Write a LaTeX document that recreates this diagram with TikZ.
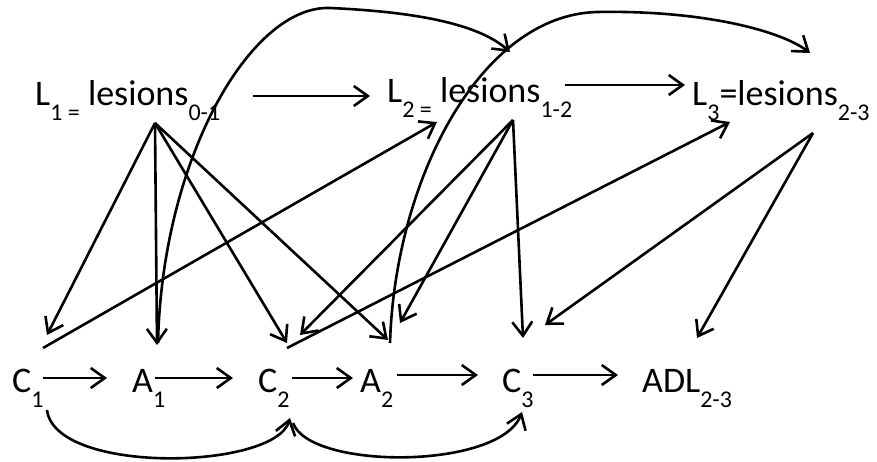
\documentclass[tikz,border=0pt]{standalone}
\usepackage{fontspec}
\setmainfont{Carlito}
\usetikzlibrary{arrows.meta}
\newcommand\sbx[1]{\raisebox{-15pt}{\fontsize{24}{24}\selectfont #1}}
\begin{document}
\begin{tikzpicture}[x=1pt,y=-1pt,
  lbl/.style={inner sep=0pt, anchor=base west, font=\fontsize{36}{40}\selectfont},
  arr/.style={line width=2.6pt, -{Straight Barb[length=14pt,width=20pt,line width=2.6pt]}}]
\useasboundingbox[fill=white] (0,0) rectangle (877,461);
% top row
\node[lbl] (L1) at (35,105) {L\sbx{1 =} lesions\sbx{0-1}};
\node[lbl] (L2) at (387,102) {L\sbx{2 =} lesions\sbx{1-2}};
\node[lbl] (L3) at (692,105) {L\sbx{3}=lesions\sbx{2-3}};
% bottom row
\node[lbl] (C1) at (12,392) {C\sbx{1}};
\node[lbl] (A1) at (132,392) {A\sbx{1}};
\node[lbl] (C2) at (258,392) {C\sbx{2}};
\node[lbl] (A2) at (360,392) {A\sbx{2}};
\node[lbl] (C3) at (502,392) {C\sbx{3}};
\node[lbl] (ADL) at (642,392) {ADL\sbx{2-3}};
% top horizontal
\draw[arr] ([shift={(218,-9)}]L1.base west) -- ([shift={(-17,-6)}]L2.base west);
\draw[arr] ([shift={(178,-17)}]L2.base west) -- ([shift={(-7,-20)}]L3.base west);
% bottom horizontal
\draw[arr] ([shift={(31,-14)}]C1.base west) -- ([shift={(-25,-14)}]A1.base west);
\draw[arr] ([shift={(23,-14)}]A1.base west) -- ([shift={(-25,-14)}]C2.base west);
\draw[arr] ([shift={(34,-14)}]C2.base west) -- ([shift={(-7,-14)}]A2.base west);
\draw[arr] ([shift={(37,-17)}]A2.base west) -- ([shift={(-24,-17)}]C3.base west);
\draw[arr] ([shift={(31,-17)}]C3.base west) -- ([shift={(-24,-17)}]ADL.base west);
% from L1
\draw[arr] ([shift={(120,18)}]L1.base west) -- ([shift={(35,-57)}]C1.base west);
\draw[arr] ([shift={(120,18)}]L1.base west) -- ([shift={(25,-47)}]A1.base west);
\draw[arr] ([shift={(120,18)}]L1.base west) -- ([shift={(29,-49)}]C2.base west);
\draw[arr] ([shift={(120,18)}]L1.base west) -- ([shift={(28,-52)}]A2.base west);
% from L2
\draw[arr] ([shift={(126,18)}]L2.base west) -- ([shift={(42,-57)}]C2.base west);
\draw[arr] ([shift={(126,18)}]L2.base west) -- ([shift={(40,-69)}]A2.base west);
\draw[arr] ([shift={(126,18)}]L2.base west) -- ([shift={(21,-54)}]C3.base west);
% from L3
\draw[arr] ([shift={(121,28)}]L3.base west) -- ([shift={(43,-67)}]C3.base west);
\draw[arr] ([shift={(121,28)}]L3.base west) -- ([shift={(55,-54)}]ADL.base west);
% upward straight
\draw[arr] ([shift={(31,-44)}]C1.base west) -- ([shift={(50,20)}]L2.base west);
\draw[arr] ([shift={(29,-44)}]C2.base west) -- ([shift={(38,17)}]L3.base west);
% bottom curves
\draw[arr] ([shift={(35,18)}]C1.base west) .. controls (55,475) and (275,470) .. ([shift={(32,26)}]C2.base west);
\draw[arr] ([shift={(35,31)}]C2.base west) .. controls (310,470) and (500,470) .. ([shift={(20,20)}]C3.base west);
% upper curves
\draw[arr] ([shift={(26,-49)}]A1.base west) .. controls (162,160) and (250,5) .. (330,8)
  .. controls (420,12) and (480,25) .. ([shift={(123,-50)}]L2.base west);
\draw[arr] ([shift={(30,-49)}]A2.base west) .. controls (395,180) and (480,15) .. (597,12)
  .. controls (700,10) and (780,30) .. ([shift={(118,-52)}]L3.base west);
\end{tikzpicture}
\end{document}
